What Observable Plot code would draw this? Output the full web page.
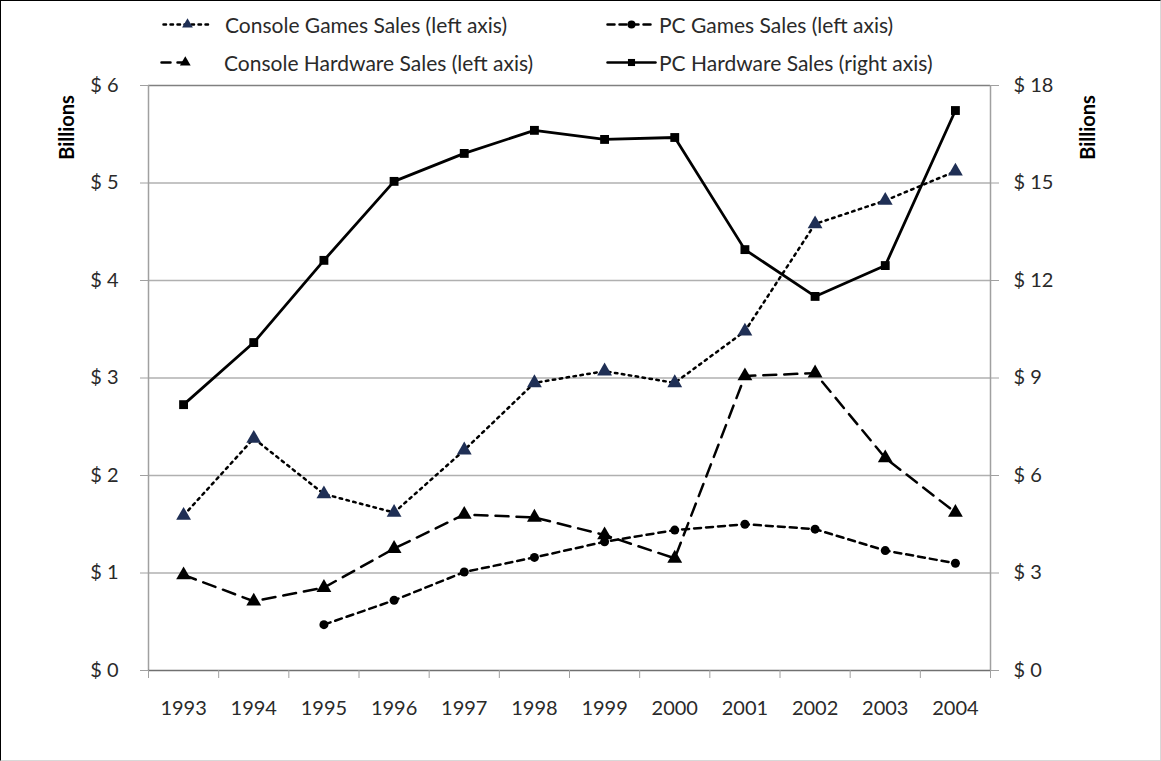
<!DOCTYPE html>
<html><head><meta charset="utf-8">
<script src="https://cdn.jsdelivr.net/npm/d3@7"></script>
<script src="https://cdn.jsdelivr.net/npm/@observablehq/plot@0.6"></script>
<style>
body{margin:0;background:#fff;font-family:Lato,sans-serif;}
#frame{position:relative;width:1161px;height:761px;box-sizing:border-box;border-top:1px solid #000;border-left:1px solid #000;border-right:1px solid #d8d8d8;border-bottom:1px solid #d8d8d8;overflow:hidden;background:#fff}
#legend{position:relative;height:77px}
.item{position:absolute;display:flex;align-items:center;font-size:21px;color:#2a2a2a;white-space:nowrap}
.item svg{margin-right:4px;overflow:visible}
#chart svg{display:block;overflow:visible}
</style></head><body><div id="frame"><div id="legend"></div><div id="chart"></div></div>
<script>
const years = [1993,1994,1995,1996,1997,1998,1999,2000,2001,2002,2003,2004];
const consoleGames = [1.59,2.38,1.81,1.62,2.26,2.95,3.07,2.95,3.48,4.58,4.82,5.12];
const consoleHardware = [0.98,0.71,0.85,1.25,1.60,1.57,1.39,1.15,3.02,3.05,2.18,1.62];
const pcGames = [null,null,0.47,0.72,1.01,1.16,1.32,1.44,1.50,1.45,1.23,1.10];
const pcHardware = [8.18,10.09,12.62,15.05,15.91,16.62,16.34,16.40,12.95,11.51,12.46,17.23];
const leftTicks = [0,1,2,3,4,5,6];
const rightTicks = [0,3,6,9,12,15,18];
const seriesNames = ["Console Games Sales (left axis)","PC Games Sales (left axis)","Console Hardware Sales (left axis)","PC Hardware Sales (right axis)"];

const rows = (vals, scale=1) => years.map((y,i)=>({year:y, v: vals[i]==null?null:vals[i]/scale})).filter(d=>d.v!=null);
const cg = rows(consoleGames), ch = rows(consoleHardware), pg = rows(pcGames), ph = rows(pcHardware, 3);
const bounds = d3.range(years.length+1).map(i=>years[0]-0.5+i);

const styles = [
  {dash:"2.5,4.5", sym:"triangle", fill:"#1f2f55", r:5.5},
  {dash:"7,5", sym:"circle", fill:"#000", r:4.5},
  {dash:"13,8", sym:"triangle", fill:"#000", r:5.5},
  {dash:null, sym:"square", fill:"#000", r:5}
];

// legend
const legend = document.getElementById("legend");
const pos = [[162,24],[606,24],[160,62],[606,62]];
seriesNames.forEach((name,i)=>{
  const s = styles[i];
  const div = document.createElement("div");
  div.className="item";
  div.style.left = pos[i][0]+"px"; div.style.top = (pos[i][1]-14)+"px";
  const w = i===2 ? 28 : 48;
  const sample = Plot.plot({width:w, height:26, margin:0, axis:null,
    x:{domain:[0,1]}, y:{domain:[0,1]},
    marks:[
      Plot.line([[0,0.5],[1,0.5]], {stroke:"#000", strokeWidth:2.5, strokeDasharray:i===2?"9,7":s.dash}),
      Plot.dot([[i===2?0.85:0.5,0.5]], {symbol:s.sym, fill:s.fill, r:4})
    ]});
  div.appendChild(sample);
  const t = document.createElement("span"); t.textContent = name;
  if (i===2) t.style.marginLeft = "31px";
  if (i===0) t.style.marginLeft = "10px";
  div.appendChild(t);
  legend.appendChild(div);
});

const chart = Plot.plot({
  width:1159, height:682,
  marginLeft:147, marginRight:170, marginTop:7, marginBottom:90,
  style:{fontFamily:"Lato, sans-serif", fontSize:"20px", color:"#2a2a2a", overflow:"visible"},
  x:{domain:[years[0]-0.5, years[years.length-1]+0.5]},
  y:{domain:[0,6]},
  marks:[
    Plot.ruleY([1,2,3,4,5], {stroke:"#b0b0b0", strokeWidth:1.3}),
    Plot.ruleY([6], {stroke:"#808080", strokeWidth:1.5}),
    Plot.ruleX([bounds[0], bounds[bounds.length-1]], {stroke:"#a0a0a0", strokeWidth:1.5}),
    Plot.ruleY([0], {stroke:"#707070", strokeWidth:1.5}),
    Plot.axisY({ticks:leftTicks, tickFormat:d=>"$ "+d, tickSize:8, tickPadding:22, label:null, stroke:"#a0a0a0"}),
    Plot.axisY({anchor:"right", ticks:leftTicks, tickFormat:(d,i)=>"$ "+rightTicks[i], tickSize:8, tickPadding:15, label:null, stroke:"#a0a0a0"}),
    Plot.axisX({ticks:bounds, tickFormat:()=>"", tickSize:8, label:null, stroke:"#a0a0a0"}),
    Plot.axisX({ticks:years, tickFormat:d=>String(d), tickSize:0, tickPadding:30, label:null}),
    Plot.text(["Billions"], {frameAnchor:"top-left", textAnchor:"middle", lineAnchor:"middle", rotate:-90, dx:-81, dy:42, fontWeight:"bold", fontSize:20, fill:"#000"}),
    Plot.text(["Billions"], {frameAnchor:"top-right", textAnchor:"middle", lineAnchor:"middle", rotate:-90, dx:98, dy:42, fontWeight:"bold", fontSize:20, fill:"#000"}),
    Plot.line(ph, {x:"year", y:"v", stroke:"#000", strokeWidth:2.8}),
    Plot.line(cg, {x:"year", y:"v", stroke:"#000", strokeWidth:2.5, strokeDasharray:styles[0].dash}),
    Plot.line(pg, {x:"year", y:"v", stroke:"#000", strokeWidth:2.5, strokeDasharray:styles[1].dash}),
    Plot.line(ch, {x:"year", y:"v", stroke:"#000", strokeWidth:2.5, strokeDasharray:styles[2].dash}),
    Plot.dot(ph, {x:"year", y:"v", symbol:"square", fill:"#000", r:styles[3].r}),
    Plot.dot(cg, {x:"year", y:"v", symbol:"triangle", fill:styles[0].fill, r:styles[0].r}),
    Plot.dot(pg, {x:"year", y:"v", symbol:"circle", fill:"#000", r:styles[1].r}),
    Plot.dot(ch, {x:"year", y:"v", symbol:"triangle", fill:"#000", r:styles[2].r})
  ]
});
document.getElementById("chart").appendChild(chart);
</script></body></html>
